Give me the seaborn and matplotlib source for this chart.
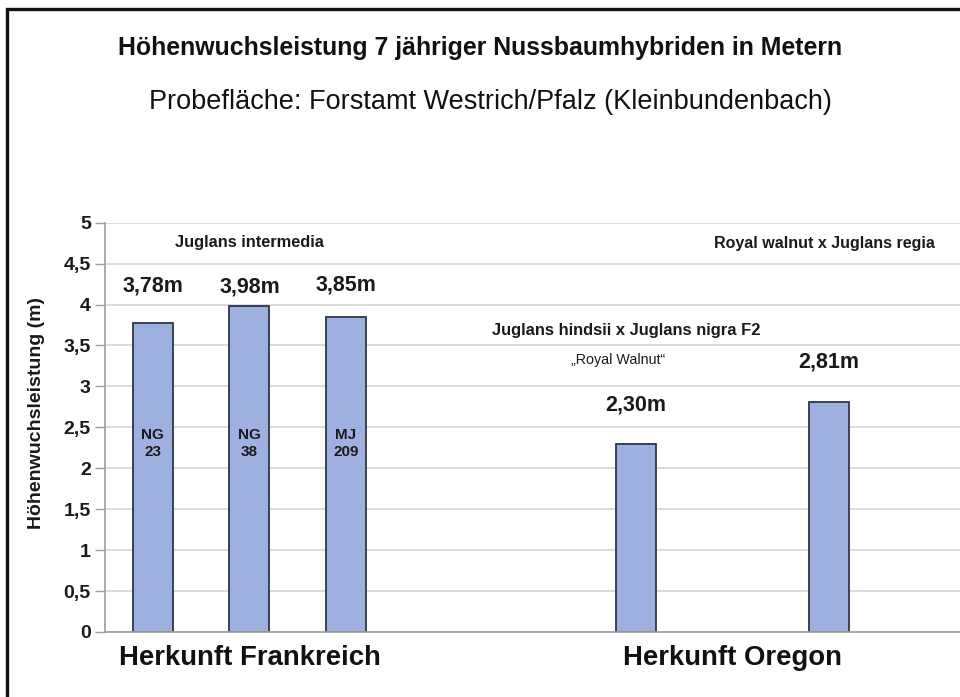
import matplotlib
matplotlib.use("Agg")
import matplotlib.pyplot as plt
import matplotlib.patches as mpatches
import seaborn as sns
import pandas as pd

sns.set_theme(style="white")
plt.rcParams['font.family'] = ['Liberation Sans', 'DejaVu Sans']

# ---- data ----
bar_ids = ["NG 23", "NG 38", "MJ 209", "Royal Walnut", "Royal x regia"]
heights = [3.78, 3.98, 3.85, 2.30, 2.81]
value_labels = ["3,78m", "3,98m", "3,85m", "2,30m", "2,81m"]
inner_labels = ["NG\n23", "NG\n38", "MJ\n209", "", ""]
category_order = ["NG 23", "NG 38", "MJ 209", " ", "  ", "Royal Walnut", "   ", "Royal x regia", "    "]
group_names = ["Herkunft Frankreich", "Herkunft Oregon"]
group_members = [["NG 23", "NG 38", "MJ 209"], ["Royal Walnut", "Royal x regia"]]
ytick_values = [0, 0.5, 1, 1.5, 2, 2.5, 3, 3.5, 4, 4.5, 5]
ytick_labels = ["0", "0,5", "1", "1,5", "2", "2,5", "3", "3,5", "4", "4,5", "5"]
title = "Höhenwuchsleistung 7 jähriger Nussbaumhybriden in Metern"
subtitle = "Probefläche: Forstamt Westrich/Pfalz (Kleinbundenbach)"
ylabel = "Höhenwuchsleistung (m)"

df = pd.DataFrame({"id": bar_ids, "h": heights})

fig = plt.figure(figsize=(9.6, 6.97), dpi=100)
fig.patch.set_facecolor("white")
ax = fig.add_axes([0.109, 0.0933, 0.891, 0.5872])

sns.barplot(data=df, x="id", y="h", order=category_order, width=0.415,
            color="#9db0e0", saturation=1, edgecolor="#30344a", linewidth=1.3, ax=ax)

ax.set_xlim(-0.5, 8.36)
ax.set_ylim(0, 5)
ax.set_yticks(ytick_values)
ax.set_yticklabels(ytick_labels, fontsize=14, fontweight="bold", color="#1a1a1a")
ax.set_xticks([])
ax.set_xlabel("")
ax.set_ylabel(ylabel, fontsize=14, fontweight="bold", color="#1a1a1a")
ax.yaxis.set_label_coords(-0.070, 0.534)
ax.grid(axis="y", color="#d4d4d4", linewidth=1.2)
ax.set_axisbelow(True)
for s in ["top", "right"]:
    ax.spines[s].set_visible(False)
ax.spines["left"].set_color("#a0a0a0")
ax.spines["bottom"].set_color("#a0a0a0")
ax.tick_params(axis="y", which="major", direction="out", length=7, width=1,
               color="#a0a0a0", pad=3, left=True)

pos = {c: i for i, c in enumerate(category_order)}

# value labels
label_offsets = [0.45, 0.23, 0.39, 0.47, 0.49]
for b, h, lab, off in zip(bar_ids, heights, value_labels, label_offsets):
    ax.text(pos[b], h + off, lab, ha="center", va="center", fontsize=15.5,
            fontweight="bold", color="#1a1a1a")

# inner labels
for b, lab in zip(bar_ids, inner_labels):
    if lab:
        ax.text(pos[b], 2.30, lab, ha="center", va="center", fontsize=11,
                fontweight="bold", color="#1a1a1a", linespacing=1.25)

# species annotations
ax.text(pos["NG 38"], 4.76, "Juglans intermedia", ha="center", va="center",
        fontsize=11.8, fontweight="bold", color="#1a1a1a")
ax.text(pos["Royal x regia"] - 0.04, 4.75, "Royal walnut x Juglans regia", ha="center",
        va="center", fontsize=11.5, fontweight="bold", color="#1a1a1a")
ax.text(pos["Royal Walnut"] - 0.1, 3.68, "Juglans hindsii x Juglans nigra F2",
        ha="center", va="center", fontsize=11.9, fontweight="bold", color="#1a1a1a")
ax.text(pos["Royal Walnut"] - 0.18, 3.32, "\u201eRoyal Walnut\u201c", ha="center",
        va="center", fontsize=10.3, color="#1a1a1a")

# group labels
for name, members in zip(group_names, group_members):
    xs = [pos[m] for m in members]
    xc = sum([min(xs), max(xs)]) / 2
    ax.text(xc, -0.32, name, ha="center", va="center", fontsize=19.8,
            fontweight="bold", color="#111111")

fig.text(0.5, 0.931, title, ha="center", va="center", fontsize=17.9,
         fontweight="bold", color="#111111")
fig.text(0.511, 0.853, subtitle, ha="center", va="center", fontsize=19.5,
         color="#111111")

# outer frame (top and left)
frame = mpatches.Rectangle((0.0068, -0.2), 1.2, 1.2 - 0.0136, transform=fig.transFigure,
                           fill=False, edgecolor="#111111", linewidth=2.4)
fig.add_artist(frame)

fig.savefig("out.png", dpi=100)
